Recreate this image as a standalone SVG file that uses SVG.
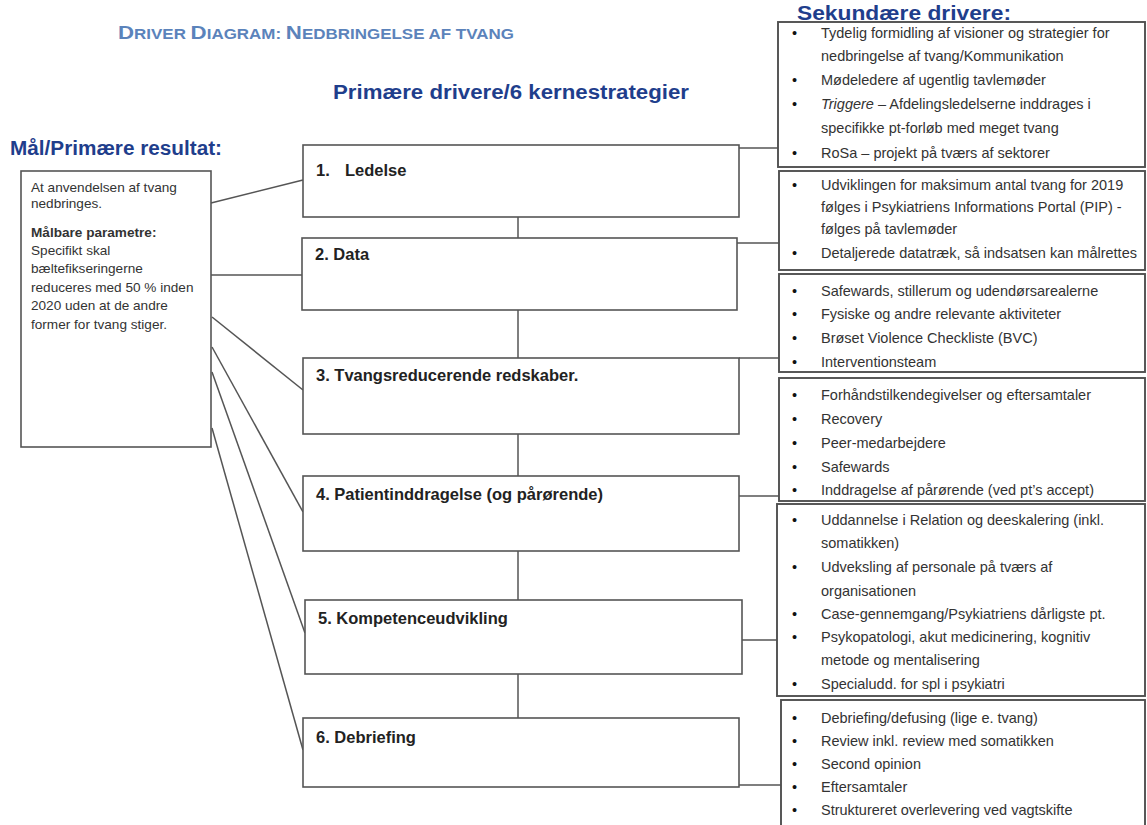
<svg xmlns="http://www.w3.org/2000/svg" width="1147" height="825" viewBox="0 0 1147 825">
<style>
  .bg { fill: #ffffff; }
  .title { font-family: "Liberation Sans", Arial, sans-serif; font-weight: bold; fill: #5b83bb; }
  .head { font-family: "Liberation Sans", Arial, sans-serif; font-weight: bold; fill: #1f3e8c; font-size: 19.5px; }
  .box { fill: #ffffff; stroke: #555555; stroke-width: 1.6; }
  .sbox { fill: #ffffff; stroke: #505050; stroke-width: 1.9; }
  .lbl { font-family: "Liberation Sans", Arial, sans-serif; font-weight: bold; font-size: 16.5px; fill: #222222; }
  .goal { font-family: "Liberation Sans", Arial, sans-serif; font-size: 13.6px; fill: #333333; }
  .sec { font-family: "Liberation Sans", Arial, sans-serif; font-size: 14.5px; fill: #333333; }
  .bul { font-family: "Liberation Sans", Arial, sans-serif; font-size: 14.5px; fill: #111111; }
  .conn { stroke: #555555; stroke-width: 1.5; fill: none; }
</style>
<rect class="bg" x="0" y="0" width="1147" height="825"/>

<g id="titles">
  <text class="title" x="118" y="39" textLength="396" lengthAdjust="spacingAndGlyphs"><tspan font-size="19">D</tspan><tspan font-size="14.5">RIVER </tspan><tspan font-size="19">D</tspan><tspan font-size="14.5">IAGRAM: </tspan><tspan font-size="19">N</tspan><tspan font-size="14.5">EDBRINGELSE AF TVANG</tspan></text>
  <text class="head" x="333" y="99" textLength="356" lengthAdjust="spacingAndGlyphs">Primære drivere/6 kernestrategier</text>
  <text class="head" x="10" y="155" textLength="212" lengthAdjust="spacingAndGlyphs">Mål/Primære resultat:</text>
  <text class="head" x="797" y="20" textLength="214" lengthAdjust="spacingAndGlyphs">Sekundære drivere:</text>
</g>

<g id="connectors">
  <line class="conn" x1="211" y1="203" x2="303" y2="180"/>
  <line class="conn" x1="210" y1="275" x2="302" y2="275"/>
  <line class="conn" x1="212" y1="317" x2="303" y2="390"/>
  <line class="conn" x1="212" y1="347" x2="303" y2="512"/>
  <line class="conn" x1="212" y1="372" x2="305" y2="633"/>
  <line class="conn" x1="212" y1="428" x2="303" y2="750"/>
  <line class="conn" x1="518" y1="217" x2="518" y2="238"/>
  <line class="conn" x1="518" y1="310" x2="518" y2="358"/>
  <line class="conn" x1="518" y1="434" x2="518" y2="476"/>
  <line class="conn" x1="518" y1="551" x2="518" y2="600"/>
  <line class="conn" x1="518" y1="674" x2="518" y2="718"/>
  <line class="conn" x1="739" y1="148" x2="778" y2="148"/>
  <line class="conn" x1="737" y1="243" x2="780" y2="243"/>
  <line class="conn" x1="739" y1="358" x2="780" y2="358"/>
  <line class="conn" x1="739" y1="496" x2="780" y2="496"/>
  <line class="conn" x1="742" y1="640" x2="778" y2="640"/>
  <line class="conn" x1="739" y1="785" x2="781" y2="785"/>
</g>

<g id="goal">
  <rect class="box" x="21" y="171" width="190" height="276"/>
  <text class="goal" x="31" y="192">At anvendelsen af tvang</text>
  <text class="goal" x="31" y="208">nedbringes.</text>
  <text class="goal" x="31" y="237" font-weight="bold">Målbare parametre:</text>
  <text class="goal" x="31" y="255">Specifikt skal</text>
  <text class="goal" x="31" y="273">bæltefikseringerne</text>
  <text class="goal" x="31" y="292">reduceres med 50 % inden</text>
  <text class="goal" x="31" y="310">2020 uden at de andre</text>
  <text class="goal" x="31" y="329">former for tvang stiger.</text>
</g>

<g id="p1">
  <rect class="box" x="303" y="145" width="436" height="72"/>
  <text class="lbl" x="316" y="176">1.</text>
  <text class="lbl" x="345" y="176">Ledelse</text>
</g>
<g id="p2">
  <rect class="box" x="302" y="238" width="435" height="72"/>
  <text class="lbl" x="315" y="260">2. Data</text>
</g>
<g id="p3">
  <rect class="box" x="303" y="358" width="436" height="76"/>
  <text class="lbl" x="316" y="381">3. Tvangsreducerende redskaber.</text>
</g>
<g id="p4">
  <rect class="box" x="303" y="476" width="436" height="75"/>
  <text class="lbl" x="316" y="500">4. Patientinddragelse (og pårørende)</text>
</g>
<g id="p5">
  <rect class="box" x="305" y="600" width="437" height="74"/>
  <text class="lbl" x="318" y="624">5. Kompetenceudvikling</text>
</g>
<g id="p6">
  <rect class="box" x="303" y="718" width="436" height="69"/>
  <text class="lbl" x="316" y="743">6. Debriefing</text>
</g>

<g id="s1">
  <rect class="sbox" x="778" y="22" width="367" height="145"/>
  <text class="bul" x="792" y="38">•</text>
  <text class="sec" x="821" y="38">Tydelig formidling af visioner og strategier for</text>
  <text class="sec" x="821" y="61">nedbringelse af tvang/Kommunikation</text>
  <text class="bul" x="792" y="85">•</text>
  <text class="sec" x="821" y="85">Mødeledere af ugentlig tavlemøder</text>
  <text class="bul" x="792" y="109">•</text>
  <text class="sec" x="821" y="109"><tspan font-style="italic">Triggere</tspan> – Afdelingsledelserne inddrages i</text>
  <text class="sec" x="821" y="133">specifikke pt-forløb med meget tvang</text>
  <text class="bul" x="792" y="158">•</text>
  <text class="sec" x="821" y="158">RoSa – projekt på tværs af sektorer</text>
</g>
<g id="s2">
  <rect class="sbox" x="779" y="171" width="366" height="99"/>
  <text class="bul" x="792" y="190">•</text>
  <text class="sec" x="821" y="190">Udviklingen for maksimum antal tvang for 2019</text>
  <text class="sec" x="821" y="212">følges i Psykiatriens Informations Portal (PIP) -</text>
  <text class="sec" x="821" y="234">følges på tavlemøder</text>
  <text class="bul" x="792" y="258">•</text>
  <text class="sec" x="821" y="258">Detaljerede datatræk, så indsatsen kan målrettes</text>
</g>
<g id="s3">
  <rect class="sbox" x="779" y="274" width="366" height="98"/>
  <text class="bul" x="792" y="296">•</text>
  <text class="sec" x="821" y="296">Safewards, stillerum og udendørsarealerne</text>
  <text class="bul" x="792" y="319">•</text>
  <text class="sec" x="821" y="319">Fysiske og andre relevante aktiviteter</text>
  <text class="bul" x="792" y="343">•</text>
  <text class="sec" x="821" y="343">Brøset Violence Checkliste (BVC)</text>
  <text class="bul" x="792" y="367">•</text>
  <text class="sec" x="821" y="367">Interventionsteam</text>
</g>
<g id="s4">
  <rect class="sbox" x="779" y="378" width="366" height="123"/>
  <text class="bul" x="792" y="400">•</text>
  <text class="sec" x="821" y="400">Forhåndstilkendegivelser og eftersamtaler</text>
  <text class="bul" x="792" y="424">•</text>
  <text class="sec" x="821" y="424">Recovery</text>
  <text class="bul" x="792" y="448">•</text>
  <text class="sec" x="821" y="448">Peer-medarbejdere</text>
  <text class="bul" x="792" y="472">•</text>
  <text class="sec" x="821" y="472">Safewards</text>
  <text class="bul" x="792" y="495">•</text>
  <text class="sec" x="821" y="495">Inddragelse af pårørende (ved pt’s accept)</text>
</g>
<g id="s5">
  <rect class="sbox" x="777" y="504" width="368" height="192"/>
  <text class="bul" x="792" y="525">•</text>
  <text class="sec" x="821" y="525">Uddannelse i Relation og deeskalering (inkl.</text>
  <text class="sec" x="821" y="548">somatikken)</text>
  <text class="bul" x="792" y="572">•</text>
  <text class="sec" x="821" y="572">Udveksling af personale på tværs af</text>
  <text class="sec" x="821" y="596">organisationen</text>
  <text class="bul" x="792" y="619">•</text>
  <text class="sec" x="821" y="619">Case-gennemgang/Psykiatriens dårligste pt.</text>
  <text class="bul" x="792" y="642">•</text>
  <text class="sec" x="821" y="642">Psykopatologi, akut medicinering, kognitiv</text>
  <text class="sec" x="821" y="665">metode og mentalisering</text>
  <text class="bul" x="792" y="689">•</text>
  <text class="sec" x="821" y="689">Specialudd. for spl i psykiatri</text>
</g>
<g id="s6">
  <rect class="sbox" x="781" y="700" width="364" height="140"/>
  <text class="bul" x="792" y="723">•</text>
  <text class="sec" x="821" y="723">Debriefing/defusing (lige e. tvang)</text>
  <text class="bul" x="792" y="746">•</text>
  <text class="sec" x="821" y="746">Review inkl. review med somatikken</text>
  <text class="bul" x="792" y="769">•</text>
  <text class="sec" x="821" y="769">Second opinion</text>
  <text class="bul" x="792" y="792">•</text>
  <text class="sec" x="821" y="792">Eftersamtaler</text>
  <text class="bul" x="792" y="815">•</text>
  <text class="sec" x="821" y="815">Struktureret overlevering ved vagtskifte</text>
</g>
</svg>
